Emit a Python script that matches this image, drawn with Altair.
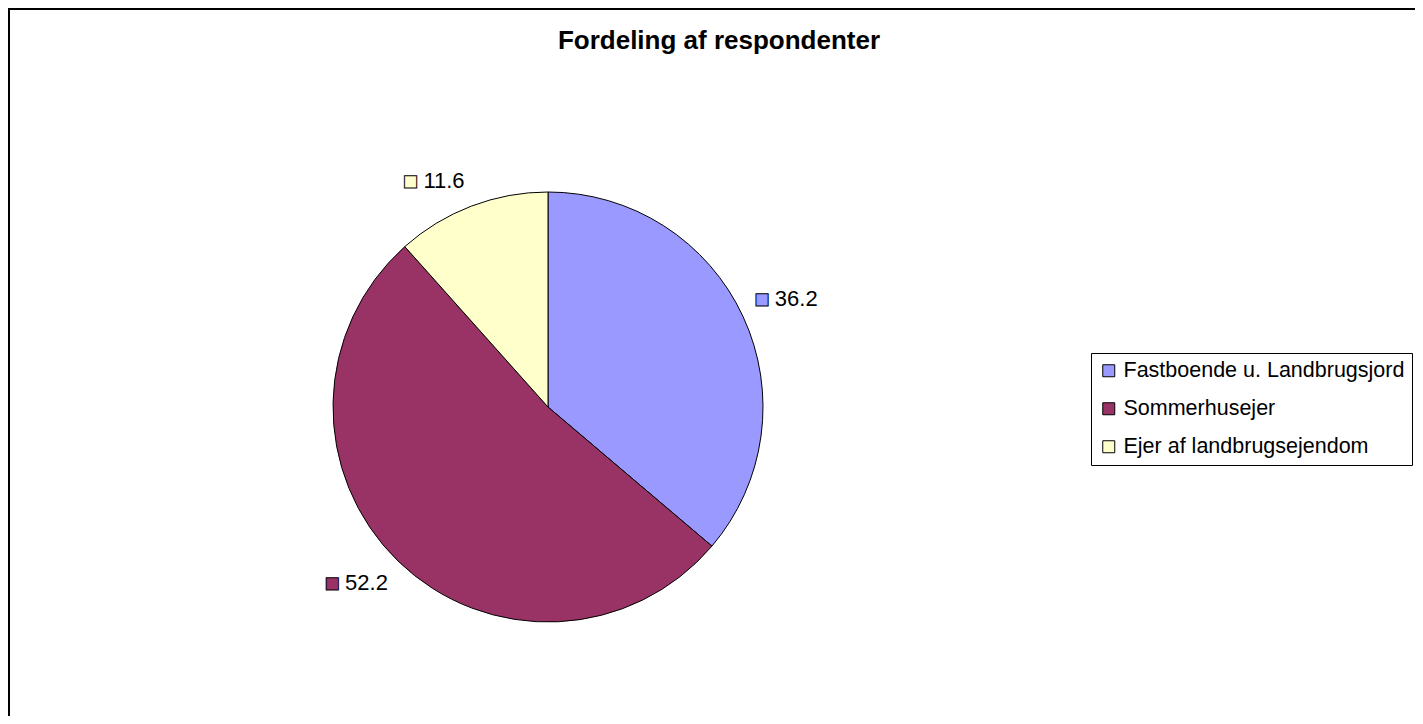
import altair as alt
import pandas as pd

title_text = "Fordeling af respondenter"
categories = ["Fastboende u. Landbrugsjord", "Sommerhusejer", "Ejer af landbrugsejendom"]
values = [36.2, 52.2, 11.6]
colors = ["#9999FF", "#993366", "#FFFFCC"]

df = pd.DataFrame({
    "category": categories,
    "value": values,
    "idx": list(range(len(categories))),
    "label": [f"{v:.1f}" for v in values],
})

W, H = 1407, 708
CX, CY, R = 540, 399, 215
LR = 229          # anchor radius of the data labels
BOXW = 62         # width of label box (square + number)
OY = 12           # half height of label box
FONT = "Liberation Sans"

color_scale = alt.Scale(domain=categories, range=colors)

pie = alt.Chart(df).mark_arc(stroke="black", strokeWidth=1, outerRadius=R).encode(
    theta=alt.Theta("value:Q", stack=True),
    order=alt.Order("idx:Q"),
    x=alt.value(CX), y=alt.value(CY),
    color=alt.Color("category:N", scale=color_scale, sort=categories,
                    legend=alt.Legend(
                        title=None, orient="none", legendX=1083, legendY=345,
                        symbolType="square", symbolSize=144,
                        symbolStrokeColor="black", symbolStrokeWidth=1,
                        symbolOpacity=1,
                        labelFont=FONT, labelFontSize=21.5, labelColor="black",
                        labelOffset=4, rowPadding=15, padding=7,
                        strokeColor="black", fillColor="white",
                        labelLimit=400,
                    )),
)

label_src = (
    alt.Chart(df)
    .transform_window(cum="sum(value)", sort=[alt.SortField("idx")], frame=[None, 0])
    .transform_joinaggregate(total="sum(value)")
    .transform_calculate(frac="(datum.cum - datum.value / 2) / datum.total")
)

theta_lab = alt.Theta("frac:Q", scale=alt.Scale(domain=[0, 1], range=[0, 6.283185307179586]))

label_layers = []
for right in (True, False):
    for upper in (True, False):
        cond = ("sin(2*PI*datum.frac) " + (">= 0" if right else "< 0") +
                " && cos(2*PI*datum.frac) " + (">= 0" if upper else "< 0"))
        dy = -OY if upper else OY
        sq_dx = 6 if right else -BOXW + 6
        tx_dx = 19 if right else -BOXW + 19
        src = label_src.transform_filter(cond)
        sq = src.mark_text(font="DejaVu Sans", fontSize=16, align="center", baseline="middle",
                           radius=LR, dx=sq_dx, dy=dy, stroke="black", strokeWidth=1).encode(
            theta=theta_lab, x=alt.value(CX), y=alt.value(CY),
            text=alt.value("■"),
            color=alt.Color("category:N", scale=color_scale, legend=None),
        )
        num = src.mark_text(font=FONT, fontSize=22, align="left", baseline="middle",
                            radius=LR, dx=tx_dx, dy=dy, color="black").encode(
            theta=theta_lab, x=alt.value(CX), y=alt.value(CY),
            text="label:N",
        )
        label_layers += [sq, num]

title = alt.Chart(pd.DataFrame({"t": [title_text]})).mark_text(
    font=FONT, fontSize=26, fontWeight="bold", align="center", baseline="alphabetic",
    color="black").encode(x=alt.value(711), y=alt.value(41), text="t:N")

border_left = alt.Chart(pd.DataFrame({"a": [0]})).mark_rule(color="black", strokeWidth=2).encode(
    x=alt.value(1), y=alt.value(0), y2=alt.value(H))
border_top = alt.Chart(pd.DataFrame({"a": [0]})).mark_rule(color="black", strokeWidth=2).encode(
    x=alt.value(0), x2=alt.value(W), y=alt.value(1))

chart = alt.layer(pie, *label_layers, title, border_left, border_top).resolve_scale(
    theta="independent"
).properties(
    width=W, height=H, padding=0, autosize=alt.AutoSizeParams(type="none"),
).configure_view(stroke=None).configure(background="white")

chart.save("out.html", embed_options={"renderer": "svg", "actions": False})
